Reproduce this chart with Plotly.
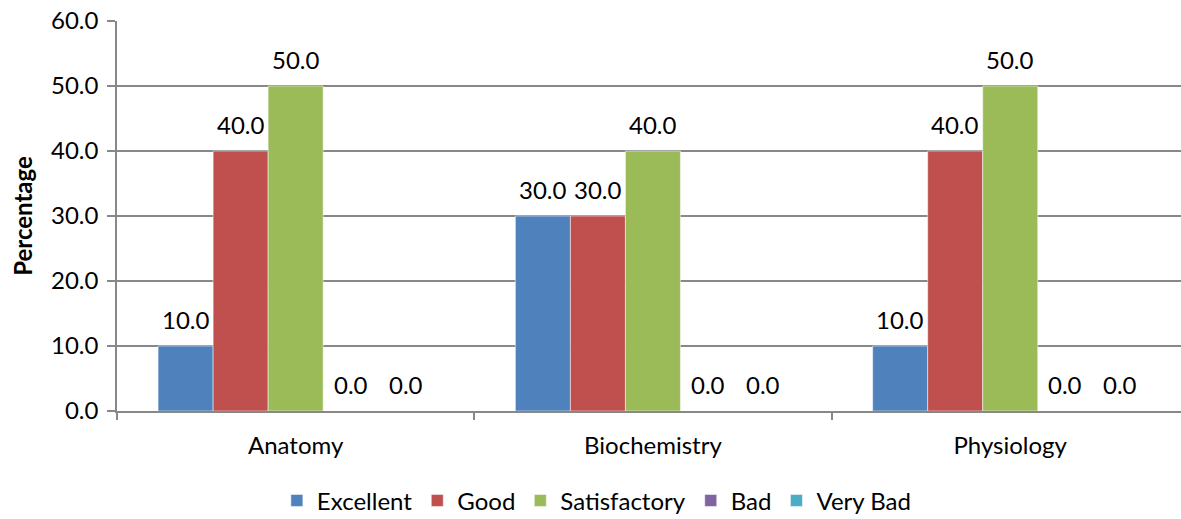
import plotly.graph_objects as go

categories = ["Anatomy", "Biochemistry", "Physiology"]
excellent = [10.0, 30.0, 10.0]
good = [40.0, 30.0, 40.0]
satisfactory = [50.0, 40.0, 50.0]
bad = [0.0, 0.0, 0.0]
very_bad = [0.0, 0.0, 0.0]

series_names = ["Excellent", "Good", "Satisfactory", "Bad", "Very Bad"]
series_values = [excellent, good, satisfactory, bad, very_bad]
series_colors = ["#4F81BD", "#C0504D", "#9BBB59", "#8064A2", "#4BACC6"]

FONT = "Lato"
FS = 24
BARGAP = 0.23

fig = go.Figure()
for name, vals, color in zip(series_names, series_values, series_colors):
    fig.add_trace(go.Bar(
        name=name, x=categories, y=vals,
        marker=dict(color=color, line=dict(width=0.5, color="white")),
    ))

# data labels placed over each bar through the axis scales
n = len(series_names)
bw = (1 - BARGAP) / n
annotations = []
for i, vals in enumerate(series_values):
    for j, v in enumerate(vals):
        annotations.append(dict(
            x=j - (1 - BARGAP) / 2 + bw * (i + 0.5), y=v, xref="x", yref="y",
            text=f"{v:.1f}", showarrow=False, yanchor="middle", yshift=27,
            font=dict(family=FONT, size=FS, color="black"),
        ))

fig.update_layout(
    width=1181, height=519,
    margin=dict(l=117, r=0, t=21, b=108, autoexpand=False),
    barmode="group", bargap=BARGAP, bargroupgap=0,
    plot_bgcolor="white", paper_bgcolor="white",
    font=dict(family=FONT, size=FS, color="black"),
    showlegend=True,
    legend=dict(orientation="h", x=0.451, xanchor="center",
                yref="container", y=0.035, yanchor="middle",
                font=dict(family=FONT, size=FS), itemwidth=30, tracegroupgap=0),
    annotations=annotations,
)
fig.update_xaxes(
    range=[-0.5, 2.478], tickson="boundaries", ticks="outside", ticklen=7,
    tickcolor="#888888", tickwidth=1.5, showline=True, linecolor="#888888", linewidth=1.5,
    showgrid=False, ticklabelstandoff=12, tickfont=dict(family=FONT, size=FS),
    automargin=False,
)
fig.update_yaxes(
    range=[0, 60], dtick=10, tickformat=".1f", ticks="outside", ticklen=8,
    tickcolor="#888888", tickwidth=1.5, showline=True, linecolor="#888888", linewidth=1.5,
    showgrid=True, gridcolor="#888888", gridwidth=1.5, zeroline=False,
    title=dict(text="<b>Percentage</b>", font=dict(family=FONT, size=24), standoff=12),
    tickfont=dict(family=FONT, size=FS), ticklabelstandoff=4,
    ticklabeloverflow="allow", automargin=False,
)

fig.write_html("out.html", config={"displayModeBar": False},
               post_script="document.body.style.margin='0';")
